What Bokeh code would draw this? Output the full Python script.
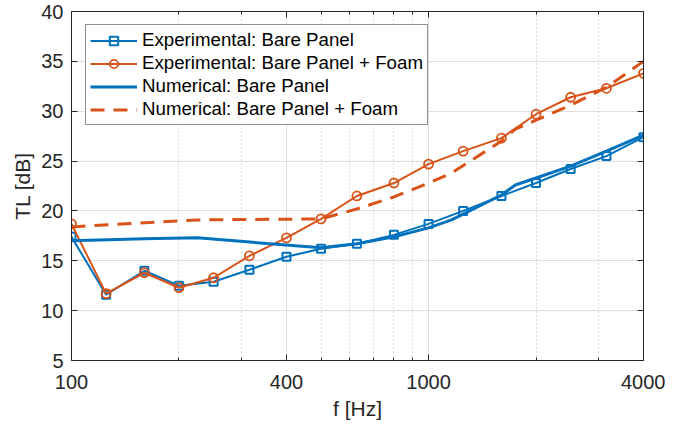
from bokeh.plotting import figure
from bokeh.models import (LogAxis, LinearAxis, FixedTicker, PrintfTickFormatter,
                          Legend, LegendItem, Range1d)
from bokeh.embed import file_html
from bokeh.resources import INLINE

# ---- data ----
freq_exp = [100, 125, 160, 200, 250, 315, 400, 500, 630, 800, 1000, 1250, 1600, 2000, 2500, 3150, 4000]
exp_bare = [17.4, 11.6, 14.0, 12.5, 12.9, 14.1, 15.4, 16.2, 16.7, 17.6, 18.7, 20.0, 21.5, 22.8, 24.2, 25.5, 27.4]
exp_foam = [18.7, 11.7, 13.8, 12.3, 13.3, 15.5, 17.3, 19.2, 21.5, 22.8, 24.7, 26.0, 27.3, 29.7, 31.4, 32.3, 33.8]

freq_num_bare = [100, 160, 225, 500, 630, 800, 1000, 1160, 1600, 1750, 2000, 2500, 3150, 4000]
num_bare = [17.0, 17.2, 17.3, 16.3, 16.7, 17.4, 18.3, 19.1, 21.6, 22.6, 23.3, 24.5, 26.0, 27.6]

freq_num_foam = [100, 225, 500, 630, 800, 1000, 1160, 1600, 1750, 2000, 2500, 3150, 4000]
num_foam = [18.4, 19.1, 19.2, 20.2, 21.4, 22.8, 23.8, 27.0, 28.2, 29.1, 30.6, 32.4, 35.0]

x_ticks = [100, 400, 1000, 4000]
x_minor = [200, 300, 500, 600, 700, 800, 900, 2000, 3000]
y_ticks = [5, 10, 15, 20, 25, 30, 35, 40]

labels = ["Experimental: Bare Panel", "Experimental: Bare Panel + Foam",
          "Numerical: Bare Panel", "Numerical: Bare Panel + Foam"]

BLUE = "#0072BD"
ORANGE = "#D95319"
AX = "#262626"
FONT = "Liberation Sans"

p = figure(width=665, height=422, x_axis_type="log",
           x_range=Range1d(100, 4000), y_range=Range1d(5, 40),
           output_backend="svg", toolbar_location=None,
           min_border_left=71, min_border_right=22,
           min_border_top=11, min_border_bottom=62)
p.background_fill_color = "white"
p.border_fill_color = "white"
p.outline_line_color = AX

xt = FixedTicker(ticks=x_ticks, minor_ticks=x_minor)
yt = FixedTicker(ticks=y_ticks)

def style_axis(ax, show_labels=True):
    ax.axis_line_color = AX
    ax.major_tick_line_color = AX
    ax.major_tick_in = 6
    ax.major_tick_out = 0
    ax.minor_tick_in = 3
    ax.minor_tick_out = 0
    ax.minor_tick_line_color = AX
    ax.major_label_text_font = FONT
    ax.major_label_text_color = AX
    ax.major_label_text_font_size = "20px"
    if not show_labels:
        ax.major_label_text_color = None
        ax.major_label_text_font_size = "0px"
        ax.major_label_standoff = 0

p.xaxis.ticker = xt
p.xaxis.formatter = PrintfTickFormatter(format="%d")
p.yaxis.ticker = yt
style_axis(p.xaxis[0])
style_axis(p.yaxis[0])
p.yaxis.minor_tick_line_color = None
p.xaxis.major_label_standoff = 14
p.yaxis.major_label_standoff = 8
p.xaxis.axis_label = "f [Hz]"
p.yaxis.axis_label = "TL [dB]"
for ax in (p.xaxis[0], p.yaxis[0]):
    ax.axis_label_text_font = FONT
    ax.axis_label_text_font_style = "normal"
    ax.axis_label_text_font_size = "21px"
    ax.axis_label_text_color = AX
p.xaxis.axis_label_standoff = 5
p.yaxis.axis_label_standoff = 4

top = LogAxis(ticker=FixedTicker(ticks=x_ticks, minor_ticks=x_minor),
              formatter=PrintfTickFormatter(format="%d"))
style_axis(top, False)
p.add_layout(top, "above")
right = LinearAxis(ticker=FixedTicker(ticks=y_ticks))
style_axis(right, False)
right.minor_tick_line_color = None
p.add_layout(right, "right")

p.xgrid.grid_line_color = AX
p.xgrid.grid_line_alpha = 0.15
p.xgrid.minor_grid_line_color = AX
p.xgrid.minor_grid_line_alpha = 0.3
p.xgrid.minor_grid_line_dash = "1 3"
p.ygrid.grid_line_color = AX
p.ygrid.grid_line_alpha = 0.15

# ---- series ----
l1 = p.line(freq_exp, exp_bare, line_color=BLUE, line_width=2)
s1 = p.scatter(freq_exp, exp_bare, marker="square", size=8, line_color=BLUE,
               line_width=2, fill_color=None)
l2 = p.line(freq_exp, exp_foam, line_color=ORANGE, line_width=2)
s2 = p.scatter(freq_exp, exp_foam, marker="circle", size=9, line_color=ORANGE,
               line_width=1.8, fill_color=None)
l3 = p.line(freq_num_bare, num_bare, line_color=BLUE, line_width=3)
l4 = p.line(freq_num_foam, num_foam, line_color=ORANGE, line_width=3,
            line_dash="14 9")

legend = Legend(items=[
    LegendItem(label=labels[0], renderers=[l1, s1]),
    LegendItem(label=labels[1], renderers=[l2, s2]),
    LegendItem(label=labels[2], renderers=[l3]),
    LegendItem(label=labels[3], renderers=[l4]),
], location=(14, 235))
legend.label_text_font = FONT
legend.label_text_font_size = "18.7px"
legend.label_text_color = "#000000"
legend.border_line_color = AX
legend.border_line_width = 1
legend.background_fill_color = "white"
legend.background_fill_alpha = 1
legend.padding = 4
legend.spacing = 1
legend.margin = 0
legend.label_height = 21
legend.glyph_height = 21
legend.glyph_width = 47
legend.label_standoff = 5
p.add_layout(legend, "center")

open("out.html", "w").write(file_html(p, INLINE))
